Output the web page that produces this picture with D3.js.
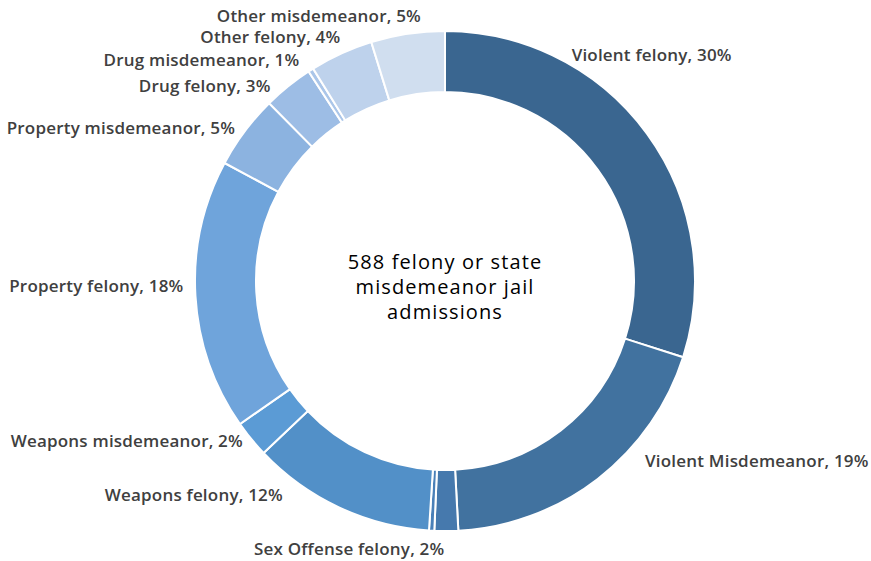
<!DOCTYPE html>
<html>
<head>
<meta charset="utf-8">
<script src="https://cdn.jsdelivr.net/npm/d3@7"></script>
<style>
  body { margin: 0; background: #fff; }
  text { font-family: "Open Sans", Lato, sans-serif; }
</style>
</head>
<body>
<div class="canva"></div>
<script>
// admissions by offense type (counts, total 588)
const categories = [
  'Violent felony', 'Violent Misdemeanor', 'Sex Offense felony', 'Sex Offense misdemeanor',
  'Weapons felony', 'Weapons misdemeanor', 'Property felony', 'Property misdemeanor',
  'Drug felony', 'Drug misdemeanor', 'Other felony', 'Other misdemeanor'
];
const counts = [176, 113, 9, 2, 70, 14, 103, 28, 19, 2, 24, 28];
// percentages as printed on the labels (null = no label)
const labelPct = [30, 19, 2, null, 12, 2, 18, 5, 3, 1, 4, 5];
const colours = [
  '#3a6690', '#41729f', '#4679ad', '#4a80b8', '#5290c8', '#5b9bd5',
  '#6fa4db', '#8cb3e0', '#9dbde5', '#abc6e9', '#bed2ec', '#d0deef'
];
const centreLines = ['588 felony or state', 'misdemeanor jail', 'admissions'];

// small hand tweaks so labels sit where the original put them
const labelNudge = [
  [-85, -72], [40, -27], [-2, 6], [0, 0], [-51, -23], [1, -5],
  [0, -10], [0, 4], [-10, 9], [-5, 0], [4, -6], [15, -6]
];

const width = 871, height = 561;
const cx = 445, cy = 281;
const outerR = 250, innerR = 189;

const svg = d3.select('.canva').append('svg')
  .attr('width', width)
  .attr('height', height);

const graph = svg.append('g')
  .attr('transform', `translate(${cx}, ${cy})`);

const data = categories.map((c, i) => ({ name: c, value: counts[i], pct: labelPct[i], fill: colours[i], i }));

const pie = d3.pie().sort(null).value(d => d.value);
const arc = d3.arc().innerRadius(innerR).outerRadius(outerR);
const arcs = pie(data);

graph.selectAll('path')
  .data(arcs)
  .enter().append('path')
  .attr('d', arc)
  .attr('fill', d => d.data.fill)
  .attr('stroke', '#fff')
  .attr('stroke-width', 2);

// labels outside the ring
const labelR = outerR + 12;
graph.selectAll('text.lbl')
  .data(arcs.filter(d => d.data.pct !== null))
  .enter().append('text')
  .attr('class', 'lbl')
  .each(function(d) {
    const a = (d.startAngle + d.endAngle) / 2;
    const nudge = labelNudge[d.data.i];
    const x = labelR * Math.sin(a) + nudge[0];
    const y = -labelR * Math.cos(a) + nudge[1];
    d3.select(this)
      .attr('x', x)
      .attr('y', y)
      .attr('text-anchor', Math.sin(a) < 0.02 ? 'end' : 'start');
  })
  .attr('dy', '0.35em')
  .attr('fill', '#404040')
  .attr('font-size', 17)
  .attr('font-weight', 600)
  .attr('letter-spacing', 0.2)
  .text(d => `${d.data.name}, ${d.data.pct}%`);

// centre caption
graph.append('text')
  .attr('text-anchor', 'middle')
  .attr('fill', '#000')
  .attr('font-size', 20)
  .attr('font-weight', 500)
  .attr('letter-spacing', 1.1)
  .selectAll('tspan')
  .data(centreLines)
  .enter().append('tspan')
  .attr('x', 0)
  .attr('y', (d, i) => -19 + i * 25)
  .attr('dy', '0.35em')
  .text(d => d);
</script>
</body>
</html>
